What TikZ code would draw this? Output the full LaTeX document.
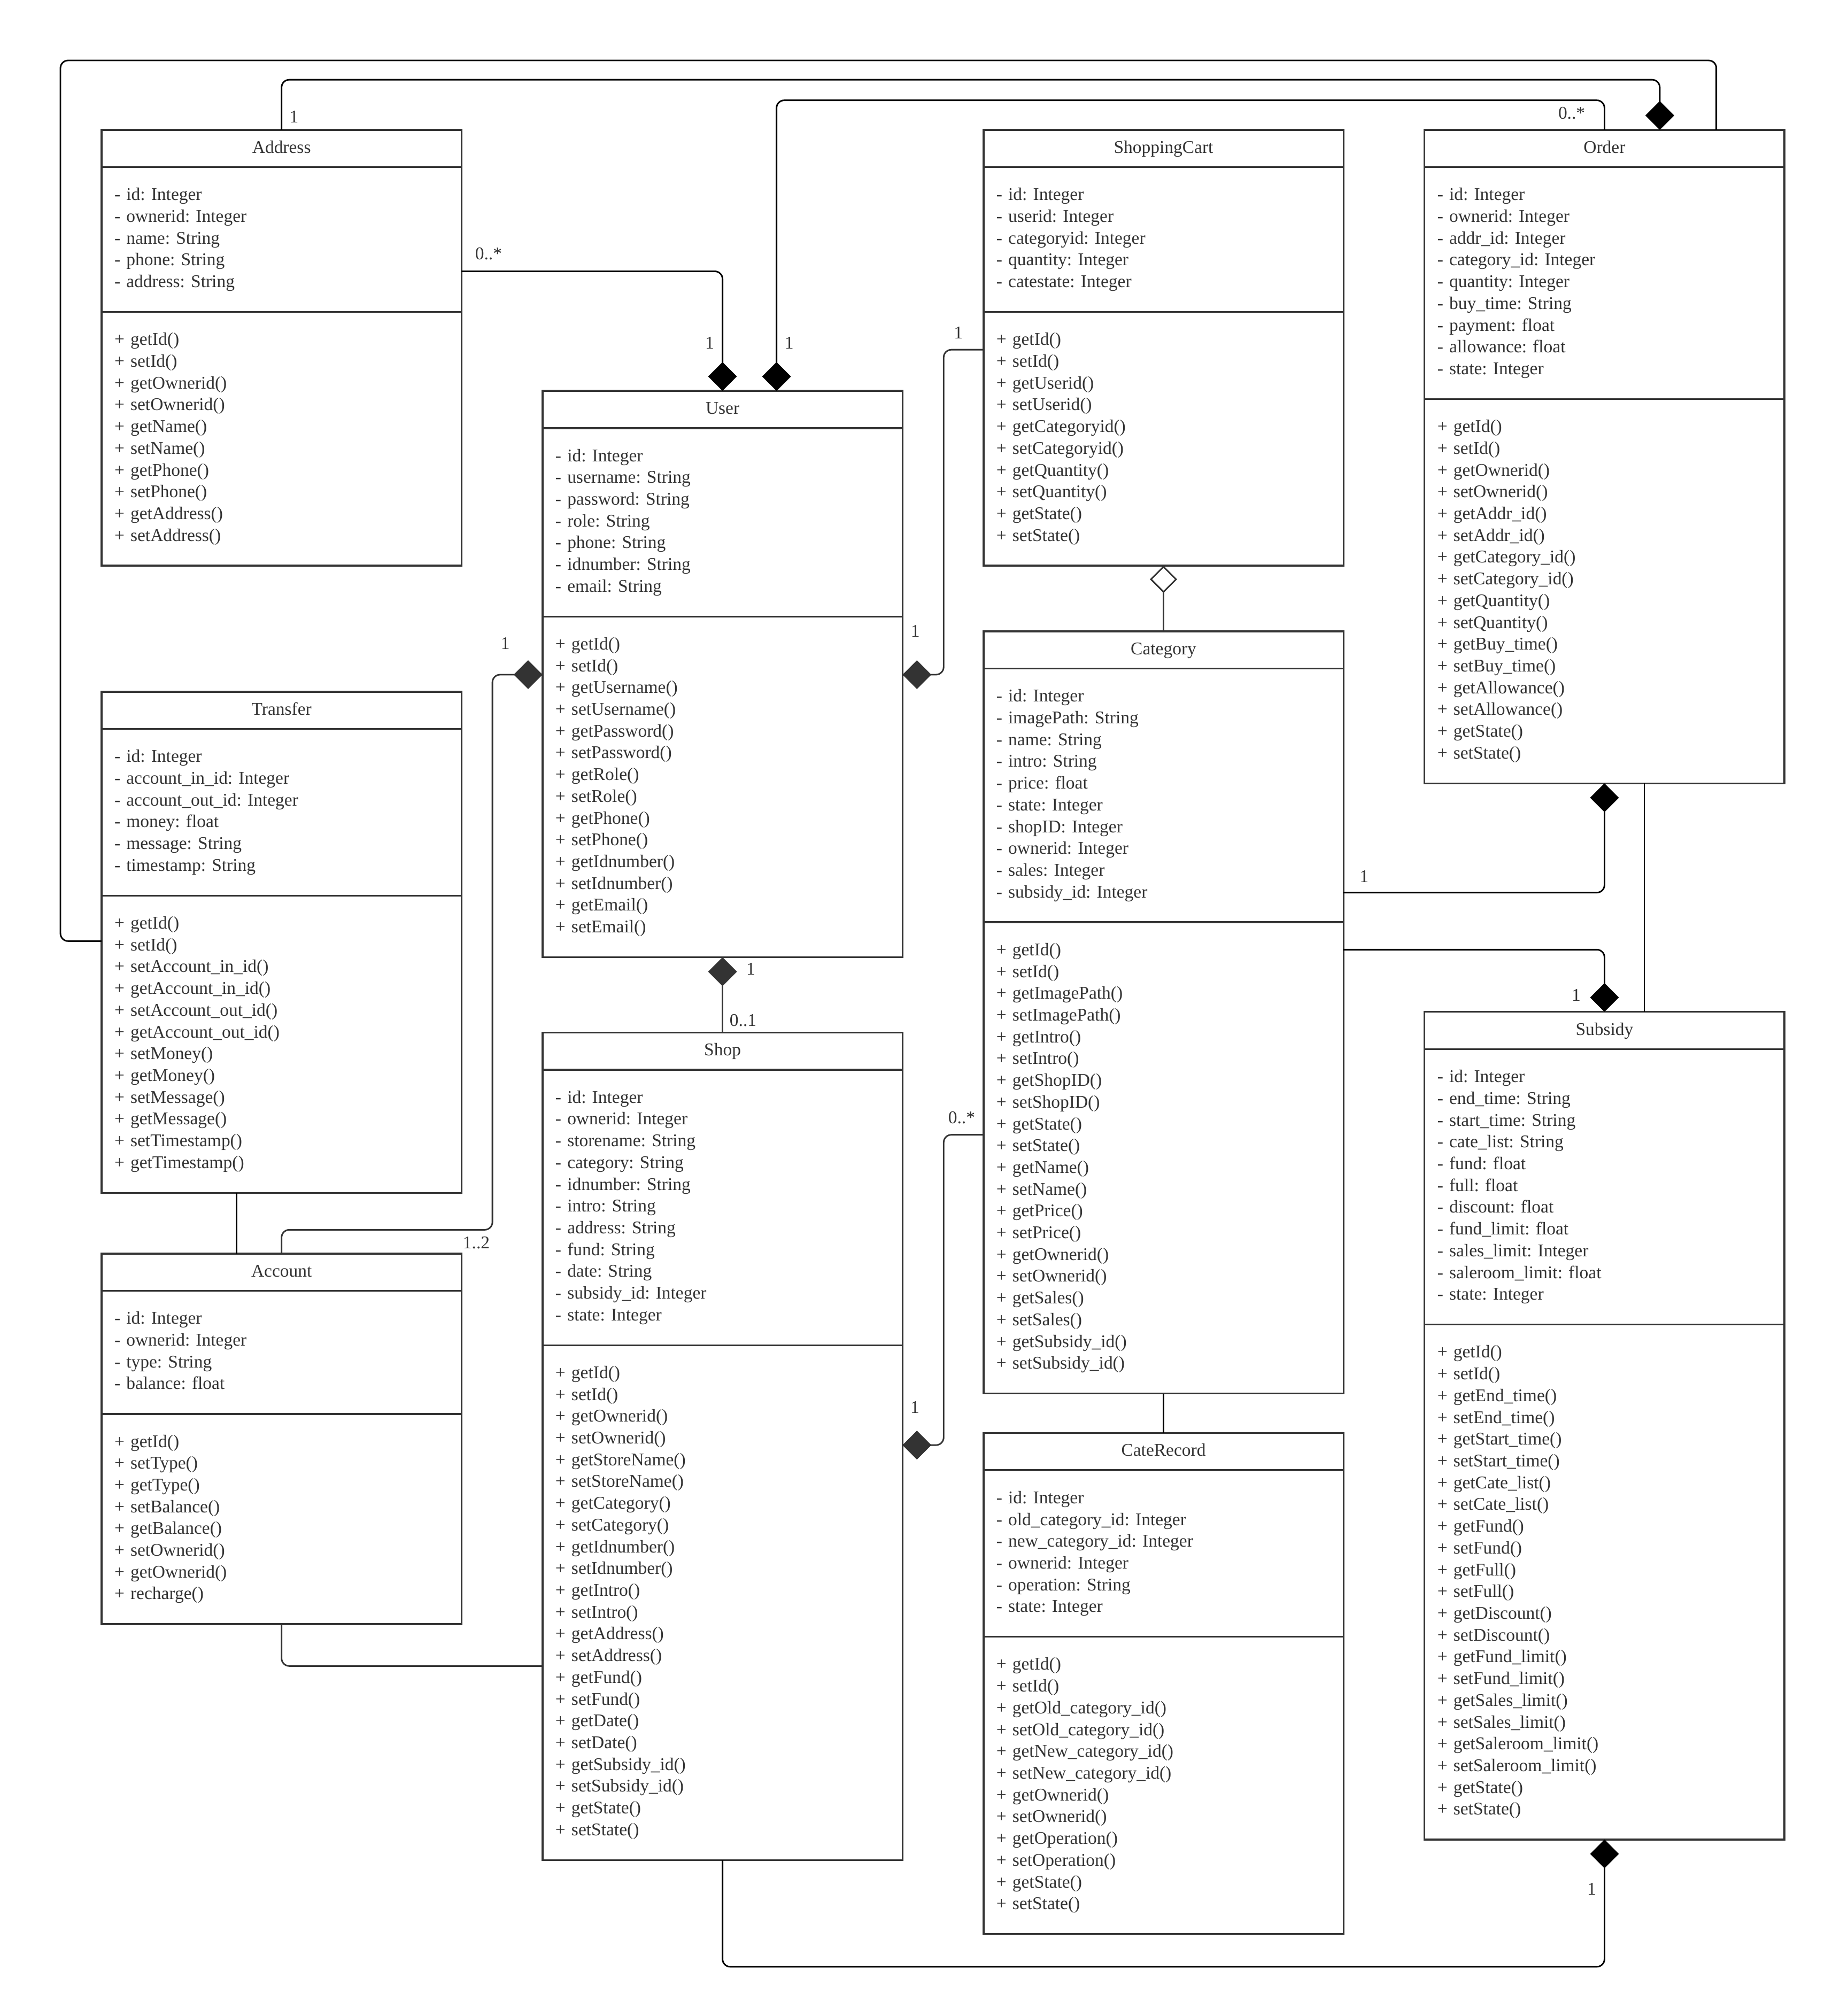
\documentclass[tikz,border=0pt]{standalone}
\usepackage{fontspec}
\setmainfont{Liberation Serif}
\usetikzlibrary{arrows.meta}
\definecolor{dk}{HTML}{333333}
\newcommand\pxu{0.25mm}
\newcommand\umlbs{16.93}
\newcommand\umlfont{\fontsize{9.9pt}{12.04pt}\selectfont\frenchspacing}
\tikzset{
  hdr/.style={draw=dk, line width=1pt, text=dk, font=\umlfont, minimum width=70mm,
    minimum height=7.25mm, inner sep=0pt, outer sep=0pt, anchor=north west, align=center,
    text height=7pt, text depth=2pt},
  sec/.style={draw=dk, line width=1pt, text=dk, font=\umlfont, text width=65mm,
    inner xsep=2.5mm, inner ysep=0pt, outer sep=0pt, align=left, anchor=north,
    execute at begin node=\strut, execute at end node=\strut},
  conn/.style={line width=0.85pt, rounded corners=1.5mm, black},
  conng/.style={conn, dk},
  thinl/.style={line width=0.65pt, black},
  fdia/.style={-{Diamond[length=5.6mm,width=5.6mm]}},
  odia/.style={-{Diamond[open,length=5.3mm,width=5.3mm,fill=white]}},
  lbl/.style={text=dk, font=\umlfont, inner sep=0pt, text height=6.7pt, text depth=0pt},
}
\newcommand\umlclass[8]{%
  \node[hdr] (#1) at (#2,#3) {#4};
  \node[sec, minimum height={(#5*\umlbs+28)*\pxu}] (#1-a) at (#1.south) {#6};
  \node[sec, minimum height={(#7*\umlbs+28)*\pxu}] (#1-m) at (#1-a.south) {#8};
}
\begin{document}
\begin{tikzpicture}[x=0.25mm, y=-0.25mm]
\useasboundingbox (0,0) rectangle (1431,1568);
\fill[white] (0,0) rectangle (1431,1568);

\umlclass{addr}{79}{101}{Address}{5}{- id: Integer\\- ownerid: Integer\\- name: String\\- phone: String\\- address: String}
 {10}{+ getId()\\+ setId()\\+ getOwnerid()\\+ setOwnerid()\\+ getName()\\+ setName()\\+ getPhone()\\+ setPhone()\\+ getAddress()\\+ setAddress()}

\umlclass{user}{422}{304}{User}{7}{- id: Integer\\- username: String\\- password: String\\- role: String\\- phone: String\\- idnumber: String\\- email: String}
 {14}{+ getId()\\+ setId()\\+ getUsername()\\+ setUsername()\\+ getPassword()\\+ setPassword()\\+ getRole()\\+ setRole()\\+ getPhone()\\+ setPhone()\\+ getIdnumber()\\+ setIdnumber()\\+ getEmail()\\+ setEmail()}

\umlclass{cart}{765}{101}{ShoppingCart}{5}{- id: Integer\\- userid: Integer\\- categoryid: Integer\\- quantity: Integer\\- catestate: Integer}
 {10}{+ getId()\\+ setId()\\+ getUserid()\\+ setUserid()\\+ getCategoryid()\\+ setCategoryid()\\+ getQuantity()\\+ setQuantity()\\+ getState()\\+ setState()}

\umlclass{order}{1108}{101}{Order}{9}{- id: Integer\\- ownerid: Integer\\- addr\_id: Integer\\- category\_id: Integer\\- quantity: Integer\\- buy\_time: String\\- payment: float\\- allowance: float\\- state: Integer}
 {16}{+ getId()\\+ setId()\\+ getOwnerid()\\+ setOwnerid()\\+ getAddr\_id()\\+ setAddr\_id()\\+ getCategory\_id()\\+ setCategory\_id()\\+ getQuantity()\\+ setQuantity()\\+ getBuy\_time()\\+ setBuy\_time()\\+ getAllowance()\\+ setAllowance()\\+ getState()\\+ setState()}

\umlclass{trans}{79}{538}{Transfer}{6}{- id: Integer\\- account\_in\_id: Integer\\- account\_out\_id: Integer\\- money: float\\- message: String\\- timestamp: String}
 {12}{+ getId()\\+ setId()\\+ setAccount\_in\_id()\\+ getAccount\_in\_id()\\+ setAccount\_out\_id()\\+ getAccount\_out\_id()\\+ setMoney()\\+ getMoney()\\+ setMessage()\\+ getMessage()\\+ setTimestamp()\\+ getTimestamp()}

\umlclass{cat}{765}{491}{Category}{10}{- id: Integer\\- imagePath: String\\- name: String\\- intro: String\\- price: float\\- state: Integer\\- shopID: Integer\\- ownerid: Integer\\- sales: Integer\\- subsidy\_id: Integer}
 {20}{+ getId()\\+ setId()\\+ getImagePath()\\+ setImagePath()\\+ getIntro()\\+ setIntro()\\+ getShopID()\\+ setShopID()\\+ getState()\\+ setState()\\+ getName()\\+ setName()\\+ getPrice()\\+ setPrice()\\+ getOwnerid()\\+ setOwnerid()\\+ getSales()\\+ setSales()\\+ getSubsidy\_id()\\+ setSubsidy\_id()}

\umlclass{shop}{422}{803}{Shop}{11}{- id: Integer\\- ownerid: Integer\\- storename: String\\- category: String\\- idnumber: String\\- intro: String\\- address: String\\- fund: String\\- date: String\\- subsidy\_id: Integer\\- state: Integer}
 {22}{+ getId()\\+ setId()\\+ getOwnerid()\\+ setOwnerid()\\+ getStoreName()\\+ setStoreName()\\+ getCategory()\\+ setCategory()\\+ getIdnumber()\\+ setIdnumber()\\+ getIntro()\\+ setIntro()\\+ getAddress()\\+ setAddress()\\+ getFund()\\+ setFund()\\+ getDate()\\+ setDate()\\+ getSubsidy\_id()\\+ setSubsidy\_id()\\+ getState()\\+ setState()}

\umlclass{acct}{79}{975}{Account}{4}{- id: Integer\\- ownerid: Integer\\- type: String\\- balance: float}
 {8}{+ getId()\\+ setType()\\+ getType()\\+ setBalance()\\+ getBalance()\\+ setOwnerid()\\+ getOwnerid()\\+ recharge()}

\umlclass{subs}{1108}{787}{Subsidy}{11}{- id: Integer\\- end\_time: String\\- start\_time: String\\- cate\_list: String\\- fund: float\\- full: float\\- discount: float\\- fund\_limit: float\\- sales\_limit: Integer\\- saleroom\_limit: float\\- state: Integer}
 {22}{+ getId()\\+ setId()\\+ getEnd\_time()\\+ setEnd\_time()\\+ getStart\_time()\\+ setStart\_time()\\+ getCate\_list()\\+ setCate\_list()\\+ getFund()\\+ setFund()\\+ getFull()\\+ setFull()\\+ getDiscount()\\+ setDiscount()\\+ getFund\_limit()\\+ setFund\_limit()\\+ getSales\_limit()\\+ setSales\_limit()\\+ getSaleroom\_limit()\\+ setSaleroom\_limit()\\+ getState()\\+ setState()}

\umlclass{crec}{765}{1114.5}{CateRecord}{6}{- id: Integer\\- old\_category\_id: Integer\\- new\_category\_id: Integer\\- ownerid: Integer\\- operation: String\\- state: Integer}
 {12}{+ getId()\\+ setId()\\+ getOld\_category\_id()\\+ setOld\_category\_id()\\+ getNew\_category\_id()\\+ setNew\_category\_id()\\+ getOwnerid()\\+ setOwnerid()\\+ getOperation()\\+ setOperation()\\+ getState()\\+ setState()}

% connectors
\draw[conn] ([yshift=80.2*\pxu]trans-m.west) -- ++(-32,0) |- ([xshift=87*\pxu,yshift=54*\pxu]order.north) -- ([xshift=87*\pxu]order.north);
\draw[conn, fdia] (addr.north) |- ([xshift=43*\pxu,yshift=39*\pxu]order.north) -- ([xshift=43*\pxu]order.north);
\draw[conn, fdia] (order.north) -- ++(0,-23) -| ([xshift=42*\pxu]user.north);
\draw[conn, fdia] ([yshift=-24.7*\pxu]addr-a.east) -| (user.north);
\draw[conng, fdia] ([yshift=69.3*\pxu]cart-m.west) -- ++(-31,0) |- ([yshift=87.3*\pxu]user-m.east);
\draw[conng, fdia] (acct.north) -- ++(0,-18.5) -| ([xshift=-39*\pxu,yshift=87.3*\pxu]user-m.west) -- ([yshift=87.3*\pxu]user-m.west);
\draw[thinl] ([xshift=-35*\pxu]trans-m.south) -- ([xshift=-35*\pxu]acct.north);
\draw[conng] (acct-m.south) |- ([yshift=-49.3*\pxu]shop-m.west);
\draw[conng, fdia] (shop.north) -- (user-m.south);
\draw[conng, odia] (cat.north) -- (cart-m.south);
\draw[conn, fdia] ([yshift=-75.6*\pxu]cat-a.east) -| (order-m.south);
\draw[conn, fdia] ([yshift=162*\pxu]cat-m.east) -| (subs.north);
\draw[thinl] ([xshift=31*\pxu]order-m.south) -- ([xshift=31*\pxu]subs.north);
\draw[conng, fdia] ([yshift=18*\pxu]cat-m.west) -- ++(-31,0) |- ([yshift=122.5*\pxu]shop-m.east);
\draw[conn] (cat-m.south) -- (crec.north);
\draw[conn, fdia] (shop-m.south) -- ++(0,83) -| (subs-m.south);

% multiplicities
\node[lbl] (m1) at (228.7,90.6) {1};
\node[lbl] (m2) at (380,197) {0..*};
\node[lbl] (m3) at (552,266.4) {1};
\node[lbl] (m4) at (613.8,266.4) {1};
\node[lbl] (m5) at (1222.5,88) {0..*};
\node[lbl] (m6) at (745.4,258.7) {1};
\node[lbl] (m7) at (712,490.7) {1};
\node[lbl] (m8) at (393,500.4) {1};
\node[lbl] (m9) at (370.5,966.5) {1..2};
\node[lbl] (m10) at (584,753.5) {1};
\node[lbl] (m11) at (578,793.5) {0..1};
\node[lbl] (m12) at (1061,681.5) {1};
\node[lbl] (m13) at (1226,774) {1};
\node[lbl] (m14) at (748,869.2) {0..*};
\node[lbl] (m15) at (711.6,1094.6) {1};
\node[lbl] (m16) at (1238,1469) {1};
\end{tikzpicture}
\end{document}
